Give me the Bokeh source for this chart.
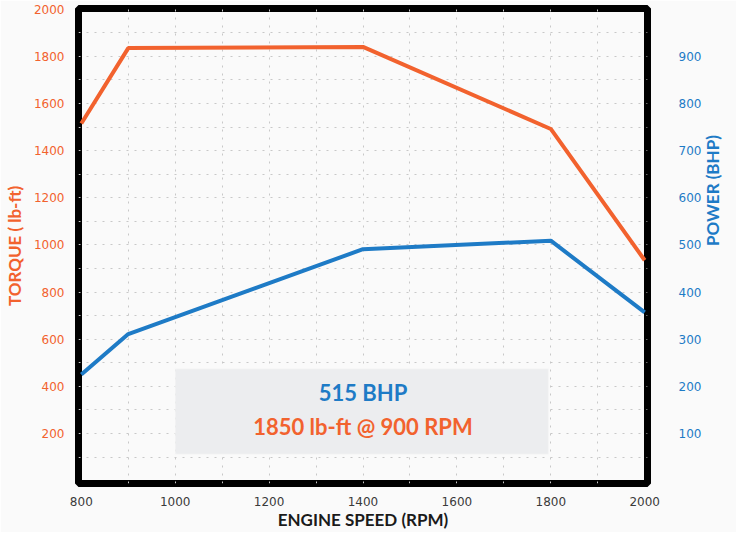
import math
from bokeh.plotting import figure
from bokeh.models import (Range1d, LinearAxis, FixedTicker, BoxAnnotation, Label)
from bokeh.embed import file_html
from bokeh.resources import INLINE

# ---- data ----
rpm = [800, 900, 1400, 1800, 2000]
torque = [1515, 1835, 1840, 1492, 935]
power = [225, 311, 491, 509, 357]

x_ticks = [800, 1000, 1200, 1400, 1600, 1800, 2000]
torque_ticks = [200, 400, 600, 800, 1000, 1200, 1400, 1600, 1800, 2000]
power_ticks = [100, 200, 300, 400, 500, 600, 700, 800, 900]
x_grid = [900, 1000, 1100, 1200, 1300, 1400, 1500, 1600, 1700, 1800, 1900]
y_grid = [100 * i for i in range(1, 20)]

headline_power = "515 BHP"
headline_torque = "1850 lb-ft @ 900 RPM"

ORANGE = "#F2622E"
BLUE = "#1E7BC6"
BG = "#FAFAFA"

p = figure(width=736, height=532, output_backend="svg", toolbar_location=None,
           x_range=Range1d(794, 2006), y_range=Range1d(-12, 2003),
           min_border_left=76, min_border_right=87, min_border_top=8,
           min_border_bottom=48)
p.background_fill_color = BG
p.border_fill_color = BG
p.outline_line_color = "black"
p.outline_line_width = 7

p.extra_y_ranges = {"power": Range1d(-6, 1001.5)}

# grid
p.xgrid.ticker = FixedTicker(ticks=x_grid)
p.ygrid.ticker = FixedTicker(ticks=y_grid)
for g in (p.xgrid, p.ygrid):
    g.grid_line_color = "#C8C8C8"
    g.grid_line_dash = "2 6"
    g.grid_line_width = 1

# bottom axis
xa = p.xaxis[0]
xa.ticker = FixedTicker(ticks=x_ticks)
xa.axis_label = "ENGINE SPEED (RPM)"
xa.axis_label_text_font = "Lato"
xa.axis_label_text_font_style = "bold"
xa.axis_label_text_font_size = "17px"
xa.axis_label_text_color = "#1a1a1a"
xa.axis_label_standoff = 0
xa.major_label_text_font = "DejaVu Sans"
xa.major_label_text_font_size = "12px"
xa.major_label_text_color = "#3a3a3a"
xa.major_label_standoff = 13

# left axis
ya = p.yaxis[0]
ya.ticker = FixedTicker(ticks=torque_ticks)
ya.axis_label = "TORQUE ( lb-ft)"
ya.axis_label_text_font = "Lato"
ya.axis_label_text_font_style = "bold"
ya.axis_label_text_font_size = "17px"
ya.axis_label_text_color = ORANGE
ya.axis_label_standoff = 6
ya.major_label_text_font = "DejaVu Sans"
ya.major_label_text_font_size = "12px"
ya.major_label_text_color = ORANGE
ya.major_label_standoff = 14

# right axis
ra = LinearAxis(y_range_name="power", ticker=FixedTicker(ticks=power_ticks))
ra.axis_label = "POWER (BHP)"
ra.axis_label_text_font = "Lato"
ra.axis_label_text_font_style = "bold"
ra.axis_label_text_font_size = "17px"
ra.axis_label_text_color = BLUE
ra.axis_label_standoff = 8
ra.major_label_text_font = "DejaVu Sans"
ra.major_label_text_font_size = "12px"
ra.major_label_text_color = BLUE
ra.major_label_standoff = 31
try:
    ra.axis_label_orientation = math.pi / 2
except Exception:
    pass
p.add_layout(ra, "right")

for ax in (xa, ya, ra):
    ax.axis_line_color = None
    ax.major_tick_line_color = None
    ax.minor_tick_line_color = None
    ax.major_tick_out = 0
    ax.major_tick_in = 0
    ax.minor_tick_out = 0
    ax.minor_tick_in = 0

# lines
p.line(rpm, torque, line_color=ORANGE, line_width=4)
p.line(rpm, power, y_range_name="power", line_color=BLUE, line_width=4)

# annotation box
box = BoxAnnotation(left=1000, right=1795, bottom=112, top=475,
                    fill_color="#ECEDEF", fill_alpha=1.0,
                    line_color="#F7F7F7", line_width=2)
p.add_layout(box)

p.add_layout(Label(x=1400, y=376, text=headline_power, text_align="center",
                   text_baseline="middle", text_font="Lato",
                   text_font_style="bold", text_font_size="22px",
                   text_color=BLUE))
p.add_layout(Label(x=1400, y=228, text=headline_torque, text_align="center",
                   text_baseline="middle", text_font="Lato",
                   text_font_style="bold", text_font_size="22px",
                   text_color=ORANGE))

open("out.html", "w").write(file_html(p, INLINE))
